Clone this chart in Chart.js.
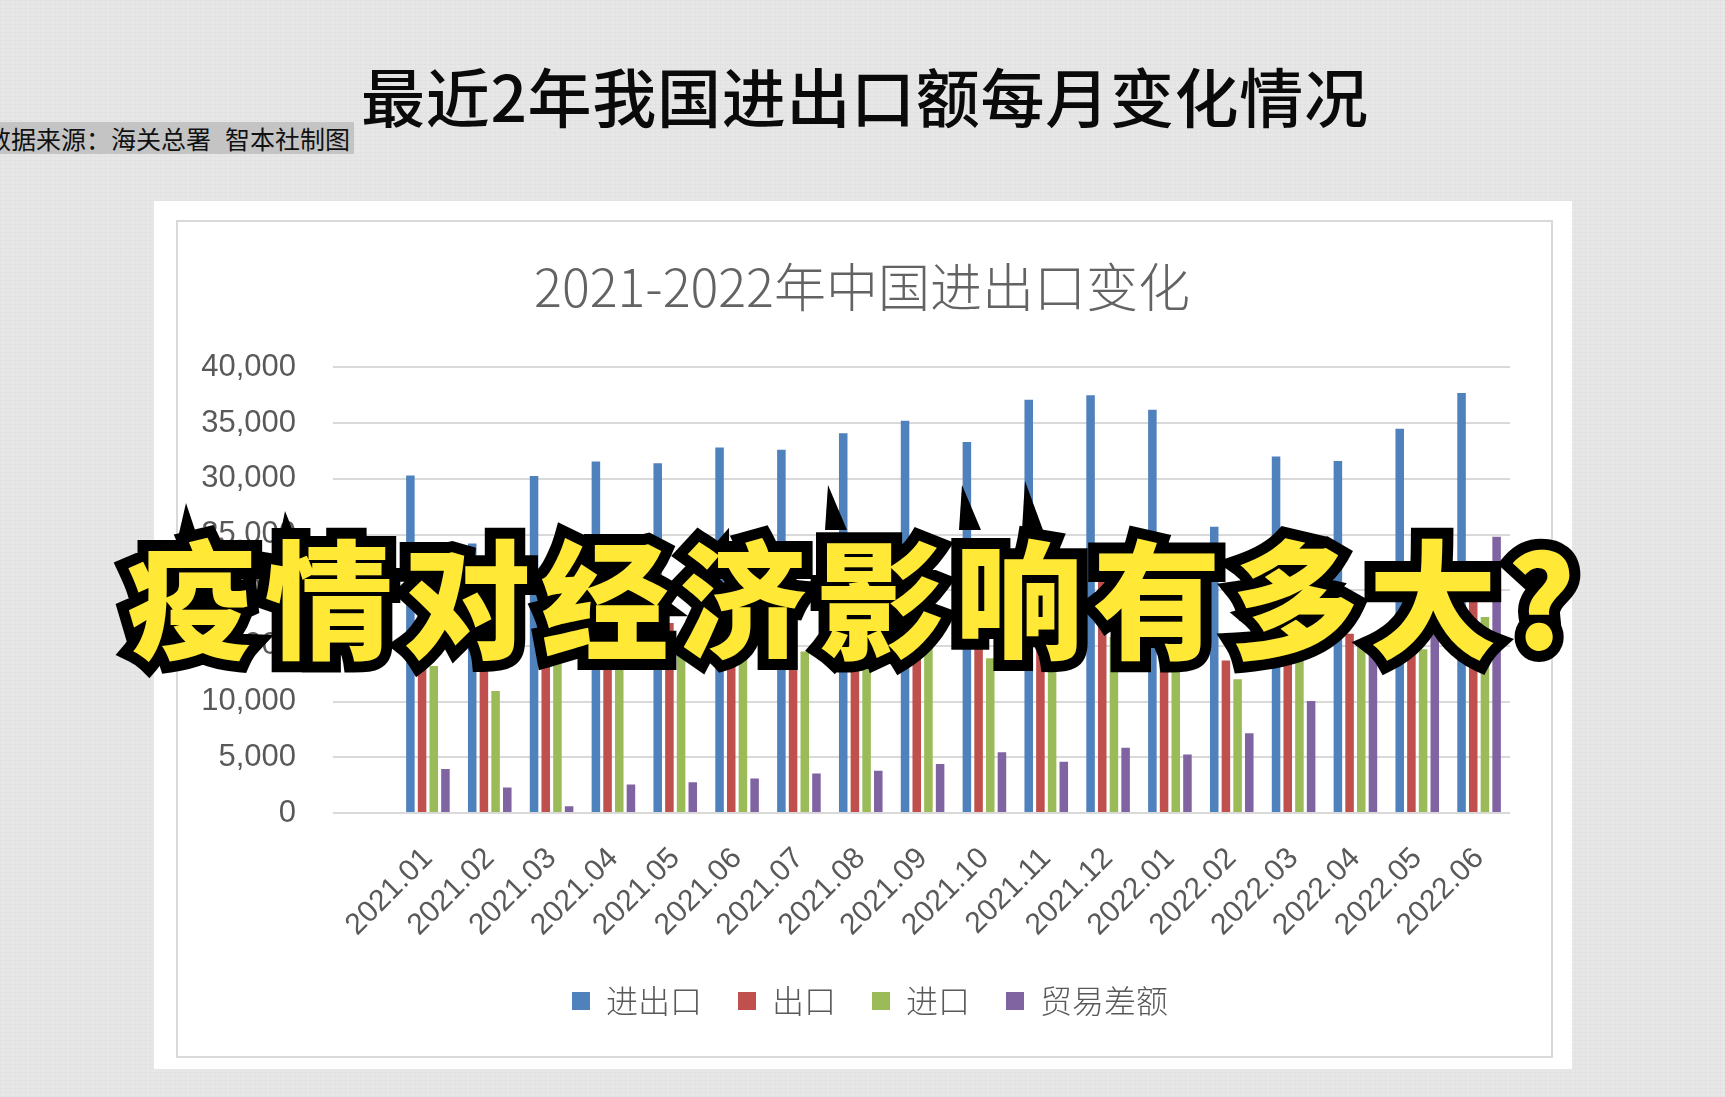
<!DOCTYPE html>
<html>
<head>
<meta charset="utf-8">
<script src="https://cdn.jsdelivr.net/npm/chart.js@4.4.1/dist/chart.umd.min.js"></script>
<style>
  html, body { margin: 0; padding: 0; }
  body {
    width: 1725px; height: 1097px; position: relative; overflow: hidden;
    background: #e7e7e7;
    font-family: "Noto Sans CJK SC", sans-serif;
  }
  #texture {
    position: absolute; left: 0; top: 0; width: 1725px; height: 1097px;
    background-image:
      repeating-linear-gradient(0deg, rgba(0,0,0,0.018) 0 1px, transparent 1px 4px),
      repeating-linear-gradient(90deg, rgba(0,0,0,0.015) 0 1px, transparent 1px 5px);
  }
  #headline {
    position: absolute; left: 361px; top: 62px; white-space: nowrap;
    font-size: 64px; line-height: 1; font-weight: 500; color: #0a0a0a; letter-spacing: 0.7px;
  }
  #source {
    position: absolute; left: 0; top: 122px; width: 354px; height: 32px;
    background: #c4c4c4; overflow: hidden;
  }
  #source span {
    position: absolute; left: -14px; top: 0; white-space: nowrap;
    font-size: 25px; line-height: 32px; color: #111;
  }
  #source i { display: inline-block; width: 14px; }
  #panel {
    position: absolute; left: 154px; top: 201px; width: 1418px; height: 868px; background: #fff;
  }
  #frame {
    position: absolute; left: 176px; top: 220px; width: 1377px; height: 838px;
    border: 2px solid #d9d9d9; box-sizing: border-box;
  }
  #chartWrap { position: absolute; left: 176px; top: 220px; width: 1377px; height: 838px; }
  #overlay {
    position: absolute; left: 856px; top: 530px; transform: translateX(-50%);
    white-space: nowrap; font-size: 128px; line-height: 1; font-weight: 900;
    letter-spacing: 10px; color: #ffe936;
    -webkit-text-stroke: 22px #000; paint-order: stroke fill;
    text-shadow: 4px 5px 0 #000;
  }
  #spikes { position: absolute; left: 0; top: 0; }
</style>
</head>
<body>
<div id="texture"></div>
<div id="headline">最近2年我国进出口额每月变化情况</div>
<div id="source"><span>数据来源：海关总署<i></i>智本社制图</span></div>
<div id="panel"></div>
<div id="frame"></div>
<div id="chartWrap"><canvas id="c" width="1377" height="838"></canvas></div>
<svg id="spikes" width="1725" height="1097">
  <polygon points="186,503 177,542 199,542" fill="#000"/>
  <polygon points="285,511 278,546 299,546" fill="#000"/>
  <polygon points="828,485 825,530 847,530" fill="#000"/>
  <polygon points="962,485 959,530 981,530" fill="#000"/>
  <polygon points="1025,481 1022,530 1043,530" fill="#000"/>
</svg>
<div id="overlay">疫情对经济影响有多大?</div>

<script>
// ---- data (亿元) ----
const months = ['2021.01','2021.02','2021.03','2021.04','2021.05','2021.06','2021.07','2021.08','2021.09',
                '2021.10','2021.11','2021.12','2022.01','2022.02','2022.03','2022.04','2022.05','2022.06'];
const seriesNames = ['进出口', '出口', '进口', '贸易差额'];
const totalTrade = [30300, 24200, 30250, 31550, 31400, 32800, 32600, 34100, 35200,
                    33300, 37100, 37500, 36200, 25700, 32000, 31600, 34500, 37700];
const exportsVal = [17100, 13250, 15450, 17050, 17050, 17950, 18100, 18950, 19800,
                    19400, 20850, 21700, 20500, 13700, 17600, 16100, 19800, 20100];
const importsVal = [13200, 10950, 14800, 14500, 14350, 14850, 14500, 15150, 15400,
                    13900, 16250, 15800, 15700, 12000, 14400, 15500, 14700, 17600];
const balanceVal = [3950, 2300, 600, 2550, 2750, 3100, 3550, 3800, 4400,
                    5450, 4600, 5850, 5250, 7150, 10050, 15000, 18000, 24800];
const yMin = 0, yMax = 40000, yStep = 5000;
const chartTitle = '2021-2022年中国进出口变化';

const seriesData = [totalTrade, exportsVal, importsVal, balanceVal];
const seriesColors = ['#4f81bd', '#c0504d', '#9bbb59', '#8064a2'];

// Excel-style placement: title and legend sit a little right of the canvas centre
const shiftBoxes = {
  id: 'shiftBoxes',
  afterLayout(chart) {
    if (chart.titleBlock) { chart.titleBlock.left += 19; chart.titleBlock.right += 19; }
    if (chart.legend) { chart.legend.left += 27; chart.legend.right += 27; }
  }
};

new Chart(document.getElementById('c').getContext('2d'), {
  type: 'bar',
  data: {
    labels: months,
    datasets: seriesNames.map((name, i) => ({
      label: name,
      data: seriesData[i],
      backgroundColor: seriesColors[i],
      borderWidth: 0,
      categoryPercentage: 0.756,
      barPercentage: 0.73
    }))
  },
  plugins: [shiftBoxes],
  options: {
    responsive: false,
    animation: false,
    devicePixelRatio: 1,
    layout: { padding: { left: 0, right: 43, top: 0, bottom: 31 } },
    plugins: {
      title: {
        display: true, text: chartTitle, color: '#636363',
        font: { family: '"Noto Sans CJK SC"', size: 52, weight: 300, lineHeight: 1.2 },
        padding: { top: 36, bottom: 49 }
      },
      legend: {
        position: 'bottom',
        labels: {
          color: '#595959', boxWidth: 18, boxHeight: 18, padding: 36,
          font: { family: '"Noto Sans CJK SC"', size: 32, weight: 300 }
        }
      },
      tooltip: { enabled: false }
    },
    scales: {
      x: {
        grid: { display: false },
        border: { display: false },
        ticks: {
          autoSkip: false, minRotation: 45, maxRotation: 45, padding: 20,
          color: '#595959', font: { family: '"Liberation Sans"', size: 30 }
        },
        afterFit: (s) => { s.height = 136; }
      },
      y: {
        min: yMin, max: yMax,
        grid: { color: '#d9d9d9', lineWidth: 2, drawTicks: true, tickLength: 64, tickColor: '#d9d9d9' },
        border: { display: false },
        ticks: {
          stepSize: yStep, padding: 37, color: '#595959',
          font: { family: '"Liberation Sans"', size: 31 },
          callback: (v) => Number(v).toLocaleString('en-US')
        },
        afterFit: (s) => { s.width = 221; }
      }
    }
  }
});
</script>
</body>
</html>
